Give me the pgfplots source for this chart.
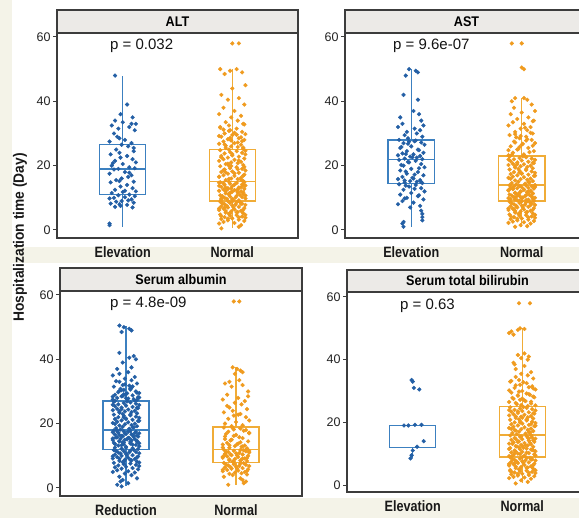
\documentclass[border=0pt]{standalone}
\usepackage{pgfplots}
\pgfplotsset{compat=1.18}
\usepackage{pgfplotstable}
\usepgfplotslibrary{statistics}
\usepackage{fontspec}
\setmainfont{Liberation Sans}
\newfontfamily\xlabfont[FakeStretch=0.84]{Liberation Sans}
\newfontfamily\stripfont[FakeStretch=0.9]{Liberation Sans}
\newfontfamily\ylabfont[FakeStretch=0.92]{Liberation Sans}
\definecolor{dotblue}{RGB}{35,95,165}
\definecolor{boxblue}{RGB}{60,128,192}
\definecolor{dotorange}{RGB}{240,155,30}
\definecolor{boxorange}{RGB}{240,172,55}
\definecolor{bgbeige}{RGB}{244,243,232}
\definecolor{stripgrey}{RGB}{236,234,231}
\definecolor{framegrey}{RGB}{60,60,60}
\definecolor{tickgrey}{RGB}{35,35,35}

% ---------------- data: d = horizontal jitter, y = days ----------------
\pgfplotstableread[row sep=\\]{
d y\\
-0.07 48\\ 0.04 39\\ -0.02 36\\ 0.09 35\\ -0.07 34\\ 0.12 33\\ 0 33.5\\ -0.10 32.5\\ 0.06 32\\ -0.04 31.5\\ 0.11 31\\ -0.08 30\\ 0.02 28\\ -0.12 27.5\\ 0.08 27\\ -0.01 26.5\\ 0.05 26\\ -0.06 25\\ 0.10 24.5\\ -0.03 24\\
-0.11 23.5\\ 0.04 23\\ -0.02 22.5\\ 0.09 22\\ -0.07 21.5\\ 0.12 21\\ 0 20.5\\ -0.10 20\\ 0.06 19.5\\ -0.04 19\\ 0.11 19.2\\ -0.08 18.8\\ 0.02 18\\ -0.12 17.5\\ 0.08 17\\ -0.01 16\\ 0.05 16.5\\ -0.06 15.5\\ 0.10 15\\ -0.03 15.2\\
-0.11 14.8\\ 0.04 14\\ -0.02 13.5\\ 0.09 13\\ -0.07 12.5\\ 0.12 12\\ 0 11.8\\ -0.10 11.5\\ 0.06 11\\ -0.04 10.8\\ 0.11 10.5\\ -0.08 10\\ 0.02 10.2\\ -0.12 9.8\\ 0.08 9.5\\ -0.01 9\\ 0.05 9.2\\ -0.06 8.8\\ 0.10 8.5\\ -0.03 8\\
-0.11 8.2\\ 0.04 7.8\\ -0.02 7.5\\ 0.09 7\\ -0.07 7.2\\ -0.12 2\\ -0.12 1.5\\ 0.02 12.2\\ 0.06 17.8\\ -0.03 28.5\\ 0.10 25.5\\ -0.05 29\\ 0.08 33\\ -0.09 20.8\\
}\altA
\pgfplotstableread[row sep=\\]{
d y\\
0 58\\ 0.06 58\\
-0.11 50\\ 0.04 50\\ -0.02 49.5\\ 0.09 49\\ -0.07 48.5\\ 0.12 45\\ 0 44\\ -0.10 42\\ 0.06 41\\ -0.04 40.5\\ 0.11 39\\ -0.08 38\\ 0.02 37\\ -0.12 36\\ 0.08 35.5\\ -0.01 35\\ 0.05 34\\ -0.06 33.5\\ 0.10 33\\ -0.03 32.5\\
-0.11 32\\ 0.04 31.5\\ -0.02 31\\ 0.09 30.5\\ -0.07 30\\ 0.12 29.8\\ 0 29.5\\ -0.10 29\\ 0.06 28.5\\ -0.04 28.2\\ 0.11 28\\ -0.08 27.5\\ 0.02 27\\ -0.12 26.8\\ 0.08 26.5\\ -0.01 26\\ 0.05 25.8\\ -0.06 25.5\\ 0.10 25.2\\ -0.03 25\\
0.11 32.8\\ -0.08 31.2\\ 0.02 30.2\\ -0.12 29.2\\ 0.08 28.8\\ -0.01 27.8\\ 0.05 27.2\\ -0.06 26.2\\ 0.10 25.6\\ -0.03 30.8\\ -0.11 31.8\\ 0.04 29.6\\ -0.02 28.6\\ 0.09 27.6\\ -0.07 26.6\\
-0.11 24.8\\ 0.04 24.5\\ -0.02 24.2\\ 0.09 24\\ -0.07 23.8\\ 0.12 23.5\\ 0 23.2\\ -0.10 23\\ 0.06 22.8\\ -0.04 22.5\\ 0.11 22.2\\ -0.08 22\\ 0.02 21.8\\ -0.12 21.5\\ 0.08 21.2\\ -0.01 21\\ 0.05 20.8\\ -0.06 20.5\\ 0.10 20.2\\ -0.03 20\\
-0.11 19.8\\ 0.04 19.5\\ -0.02 19.2\\ 0.09 19\\ -0.07 18.8\\ 0.12 18.5\\ 0 18.2\\ -0.10 18\\ 0.06 17.8\\ -0.04 17.5\\ 0.11 17.2\\ -0.08 17\\ 0.02 16.8\\ -0.12 16.5\\ 0.08 16.2\\ -0.01 16\\ 0.05 15.8\\ -0.06 15.5\\ 0.10 15.2\\ -0.03 15\\
0.12 24.6\\ 0 23.6\\ -0.10 22.6\\ 0.06 21.6\\ -0.04 20.6\\ 0.11 19.6\\ -0.08 18.6\\ 0.02 17.6\\ -0.12 16.6\\ 0.08 15.6\\ -0.01 19.9\\ 0.05 18.9\\ -0.06 17.9\\ 0.10 16.9\\ -0.03 15.9\\
-0.11 14.8\\ 0.04 14.6\\ -0.02 14.4\\ 0.09 14.2\\ -0.07 14\\ 0.12 13.8\\ 0 13.6\\ -0.10 13.4\\ 0.06 13.2\\ -0.04 13\\ 0.11 12.8\\ -0.08 12.6\\ 0.02 12.4\\ -0.12 12.2\\ 0.08 12\\ -0.01 11.8\\ 0.05 11.6\\ -0.06 11.4\\ 0.10 11.2\\ -0.03 11\\
-0.11 10.8\\ 0.04 10.6\\ -0.02 10.4\\ 0.09 10.2\\ -0.07 10\\ 0.12 9.8\\ 0 9.6\\ -0.10 9.4\\ 0.06 9.2\\ -0.04 9\\ 0.11 14.9\\ -0.08 14.5\\ 0.02 14.1\\ -0.12 13.7\\ 0.08 13.3\\ -0.01 12.9\\ 0.05 12.5\\ -0.06 12.1\\ 0.10 11.7\\ -0.03 11.3\\
0.07 10.9\\ -0.09 10.5\\ 0.03 10.1\\ -0.05 9.7\\ 0.01 9.3\\ -0.12 14.7\\ 0.10 13.9\\ -0.06 13.1\\ 0.04 12.3\\ -0.02 11.5\\ 0.12 10.7\\ -0.10 9.9\\ 0.06 9.1\\ -0.04 12.7\\ 0 11.9\\
-0.11 8.8\\ 0.04 8.6\\ -0.02 8.4\\ 0.09 8.2\\ -0.07 8\\ 0.12 7.8\\ 0 7.6\\ -0.10 7.4\\ 0.06 7.2\\ -0.04 7\\ 0.11 6.8\\ -0.08 6.6\\ 0.02 6.4\\ -0.12 6.2\\ 0.08 6\\ -0.01 5.8\\ 0.05 5.6\\ -0.06 5.4\\ 0.10 5.2\\ -0.03 5\\
-0.11 4.8\\ 0.04 4.6\\ -0.02 4.4\\ 0.09 4.2\\ -0.07 4\\ 0.12 3.8\\ 0 3.6\\ -0.10 3.4\\ 0.06 3.2\\ -0.04 3\\ 0.11 2.8\\ -0.08 2.5\\ 0.02 2.2\\ -0.12 2\\ 0.08 1.5\\ 0.06 1\\ -0.10 0.5\\
0.07 8.7\\ -0.09 8.3\\ 0.03 7.9\\ -0.05 7.5\\ 0.01 7.1\\ -0.12 6.7\\ 0.10 6.3\\ -0.06 5.9\\ 0.04 5.5\\ -0.02 5.1\\ 0.12 4.7\\ -0.10 4.3\\ 0.06 3.9\\ -0.04 3.5\\ 0 8.9\\ 0.08 8.1\\ -0.07 6.9\\ 0.09 5.7\\
}\altN
\pgfplotstableread[row sep=\\]{
d y\\
-0.02 50\\ 0.04 49.5\\ 0.06 49\\ -0.05 48\\ -0.07 42\\ 0.06 40.5\\ 0.02 37\\ 0.07 36\\ -0.10 35\\ 0.09 34\\ -0.08 33\\ 0.11 32.5\\ -0.12 32\\ 0.03 31.5\\ 0.08 31\\ -0.04 30.5\\ 0.05 30\\ -0.06 29.5\\ 0.10 29\\ -0.03 28.5\\
-0.11 28\\ 0.04 27.8\\ -0.02 27.5\\ 0.09 27.2\\ -0.07 27\\ 0.12 26.5\\ 0 26\\ -0.10 25.5\\ 0.06 25\\ -0.04 24.5\\ 0.11 24\\ -0.08 23.8\\ 0.02 23.5\\ -0.12 23.2\\ 0.08 23\\ -0.01 22.8\\ 0.05 22.5\\ -0.06 22.2\\ 0.10 22\\ -0.03 26.8\\ -0.09 25.8\\ 0.07 24.8\\ -0.05 23.6\\ 0.03 27.6\\ 0.01 22.6\\
-0.11 21.8\\ 0.04 21.5\\ -0.02 21\\ 0.09 20.5\\ -0.07 20\\ 0.12 19.5\\ 0 19\\ -0.10 18.5\\ 0.06 18\\ -0.04 17.5\\ 0.11 17\\ -0.08 16.5\\ 0.02 16\\ -0.12 15.8\\ 0.08 15.5\\ -0.01 15.2\\ 0.05 15\\ -0.06 14.8\\ 0.10 14.6\\ -0.03 21.2\\ -0.09 20.2\\ 0.07 19.2\\ -0.05 18.2\\ 0.03 17.2\\ 0.01 16.2\\ -0.06 15.4\\ 0.09 14.9\\
-0.11 14.2\\ 0.04 14\\ -0.02 13.5\\ 0.09 13\\ -0.07 12.5\\ 0.12 12\\ 0 11.5\\ -0.10 11\\ 0.06 10.5\\ -0.04 10\\ 0.11 9.5\\ -0.08 9\\ 0.02 8.5\\ -0.12 8\\ 0.08 7.5\\ -0.01 7\\ 0.09 6\\ 0.10 5\\ 0.10 4\\ 0.10 3\\ -0.07 2.5\\ -0.08 2\\ -0.07 1\\ -0.05 13.8\\ 0.03 12.8\\ 0.07 10.8\\ -0.06 9.8\\
}\astA
\pgfplotstableread[row sep=\\]{
d y\\
-0.09 58\\ 0 58\\ 0 50.5\\ 0.02 50\\
-0.06 41\\ 0.02 41\\ 0.05 40.5\\ -0.09 40\\ 0.09 39\\ -0.07 38\\ 0.12 37\\ 0 36.5\\ -0.10 36\\ 0.06 35\\ -0.04 34.5\\ 0.11 34\\ -0.08 33.5\\ 0.02 33\\ -0.12 32.5\\ 0.08 32\\ -0.01 31.5\\ 0.05 31\\ -0.06 30.5\\ 0.10 30\\
-0.11 29.5\\ 0.04 29\\ -0.02 28.5\\ 0.09 28\\ -0.07 27.5\\ 0.12 27\\ 0 26.5\\ -0.10 26\\ 0.06 25.5\\ -0.04 25\\ 0.11 24.5\\ -0.08 24\\ 0.02 23.5\\ -0.12 23.2\\ 0.08 30.2\\ -0.01 29.2\\ 0.05 28.2\\ -0.06 27.2\\ 0.10 26.2\\ -0.03 25.2\\
0.07 24.2\\ -0.09 23.4\\ 0.03 31.8\\ -0.05 28.8\\ 0.01 26.8\\ -0.12 24.8\\ 0.10 33.8\\ -0.06 29.8\\ 0.04 27.8\\ -0.02 25.8\\
-0.11 22.8\\ 0.04 22.6\\ -0.02 22.4\\ 0.09 22.2\\ -0.07 22\\ 0.12 21.8\\ 0 21.6\\ -0.10 21.4\\ 0.06 21.2\\ -0.04 21\\ 0.11 20.8\\ -0.08 20.6\\ 0.02 20.4\\ -0.12 20.2\\ 0.08 20\\ -0.01 19.8\\ 0.05 19.6\\ -0.06 19.4\\ 0.10 19.2\\ -0.03 19\\
-0.11 18.8\\ 0.04 18.6\\ -0.02 18.4\\ 0.09 18.2\\ -0.07 18\\ 0.12 17.8\\ 0 17.6\\ -0.10 17.4\\ 0.06 17.2\\ -0.04 17\\ 0.11 16.8\\ -0.08 16.6\\ 0.02 16.4\\ -0.12 16.2\\ 0.08 16\\ -0.01 15.8\\ 0.05 15.6\\ -0.06 15.4\\ 0.10 15.2\\ -0.03 15\\
0.07 14.8\\ -0.09 14.6\\ 0.03 14.4\\ -0.05 14.2\\ 0.01 22.9\\ -0.12 21.9\\ 0.10 20.9\\ -0.06 19.9\\ 0.04 18.9\\ -0.02 17.9\\ 0.12 16.9\\ -0.10 15.9\\ 0.06 14.9\\ -0.04 20.5\\ 0 17.5\\
-0.11 13.9\\ 0.04 13.8\\ -0.02 13.7\\ 0.09 13.6\\ -0.07 13.5\\ 0.12 13.4\\ 0 13.3\\ -0.10 13.2\\ 0.06 13.1\\ -0.04 13\\ 0.11 12.9\\ -0.08 12.8\\ 0.02 12.6\\ -0.12 12.4\\ 0.08 12.2\\ -0.01 12\\ 0.05 11.8\\ -0.06 11.6\\ 0.10 11.4\\ -0.03 11.2\\
-0.11 11\\ 0.04 10.8\\ -0.02 10.6\\ 0.09 10.4\\ -0.07 10.2\\ 0.12 10\\ 0 9.8\\ -0.10 9.6\\ 0.06 9.4\\ -0.04 9.2\\ 0.11 9\\ -0.08 12.7\\ 0.02 12.5\\ -0.12 12.3\\ 0.08 12.1\\ -0.01 11.9\\ 0.05 11.7\\ -0.06 11.5\\ 0.10 11.3\\ -0.03 11.1\\
0.07 10.9\\ -0.09 10.7\\ 0.03 10.5\\ -0.05 10.3\\ 0.01 10.1\\ -0.12 9.9\\ 0.10 9.7\\ -0.06 9.5\\ 0.04 9.3\\ -0.02 9.1\\ 0.12 13.95\\ -0.10 12.95\\ 0.06 11.95\\ -0.04 10.95\\ 0 9.95\\
-0.11 8.8\\ 0.04 8.6\\ -0.02 8.4\\ 0.09 8.2\\ -0.07 8\\ 0.12 7.8\\ 0 7.6\\ -0.10 7.4\\ 0.06 7.2\\ -0.04 7\\ 0.11 6.8\\ -0.08 6.6\\ 0.02 6.4\\ -0.12 6.2\\ 0.08 6\\ -0.01 5.8\\ 0.05 5.6\\ -0.06 5.4\\ 0.10 5.2\\ -0.03 5\\
-0.11 4.8\\ 0.04 4.6\\ -0.02 4.4\\ 0.09 4.2\\ -0.07 4\\ 0.12 3.8\\ 0 3.6\\ -0.10 3.4\\ 0.06 3.2\\ -0.04 3\\ 0.11 2.8\\ -0.08 2.6\\ 0.02 2.4\\ -0.12 2.2\\ 0.08 2\\ -0.01 1.5\\ 0.05 1.2\\ -0.06 1\\
0.07 8.7\\ -0.09 8.3\\ 0.03 7.9\\ -0.05 7.5\\ 0.01 7.1\\ -0.12 6.7\\ 0.10 6.3\\ -0.06 5.9\\ 0.04 5.5\\ -0.02 5.1\\ 0.12 4.7\\ -0.10 4.3\\ 0.06 3.9\\ -0.04 3.5\\ 0 8.9\\ 0.08 7.7\\ -0.07 6.5\\
}\astN
\pgfplotstableread[row sep=\\]{
d y\\
-0.06 50.5\\ -0.02 50\\ 0.03 49.5\\ 0.05 49\\ -0.04 48.5\\ -0.06 42\\ 0.07 41\\ 0.03 40.5\\ 0.09 40\\ -0.03 39\\ 0.05 37.5\\ -0.08 37\\ 0.02 36\\ -0.12 35\\ 0.08 34.5\\ -0.01 34\\ 0.05 33.5\\ -0.06 33\\ 0.10 32.5\\ -0.03 32\\
-0.11 31.5\\ 0.04 31\\ -0.02 30.5\\ 0.09 30\\ -0.07 29.8\\ 0.12 29.5\\ 0 29.2\\ -0.10 29\\ 0.06 28.8\\ -0.04 28.5\\ 0.11 28.2\\ -0.08 28\\ 0.02 27.8\\ -0.12 27.5\\ 0.08 27.2\\ -0.01 32.2\\ 0.05 31.2\\ -0.06 30.2\\ 0.10 29.6\\ -0.03 28.6\\
0.07 27.6\\ -0.09 33.2\\ 0.03 31.8\\ -0.05 30.8\\ 0.01 29.4\\ -0.12 28.4\\ 0.10 27.4\\ -0.06 35.5\\ 0.04 30.6\\ -0.02 29.1\\ 0.12 28.1\\ -0.10 27.1\\ 0.06 31.6\\ -0.04 30.4\\ 0 27.9\\
-0.11 26.8\\ 0.04 26.6\\ -0.02 26.4\\ 0.09 26.2\\ -0.07 26\\ 0.12 25.8\\ 0 25.6\\ -0.10 25.4\\ 0.06 25.2\\ -0.04 25\\ 0.11 24.8\\ -0.08 24.6\\ 0.02 24.4\\ -0.12 24.2\\ 0.08 24\\ -0.01 23.8\\ 0.05 23.6\\ -0.06 23.4\\ 0.10 23.2\\ -0.03 23\\
-0.11 22.8\\ 0.04 22.6\\ -0.02 22.4\\ 0.09 22.2\\ -0.07 22\\ 0.12 21.8\\ 0 21.6\\ -0.10 21.4\\ 0.06 21.2\\ -0.04 21\\ 0.11 20.8\\ -0.08 20.6\\ 0.02 20.4\\ -0.12 20.2\\ 0.08 20\\ -0.01 19.8\\ 0.05 19.6\\ -0.06 19.4\\ 0.10 19.2\\ -0.03 19\\
0.07 18.8\\ -0.09 18.6\\ 0.03 18.4\\ -0.05 18.2\\ 0.01 26.9\\ -0.12 25.9\\ 0.10 24.9\\ -0.06 23.9\\ 0.04 22.9\\ -0.02 21.9\\ 0.12 20.9\\ -0.10 19.9\\ 0.06 18.9\\ -0.04 24.5\\ 0 21.5\\
-0.11 17.9\\ 0.04 17.8\\ -0.02 17.6\\ 0.09 17.4\\ -0.07 17.2\\ 0.12 17\\ 0 16.8\\ -0.10 16.6\\ 0.06 16.4\\ -0.04 16.2\\ 0.11 16\\ -0.08 15.8\\ 0.02 15.6\\ -0.12 15.4\\ 0.08 15.2\\ -0.01 15\\ 0.05 14.8\\ -0.06 14.6\\ 0.10 14.4\\ -0.03 14.2\\
-0.11 14\\ 0.04 13.8\\ -0.02 13.6\\ 0.09 13.4\\ -0.07 13.2\\ 0.12 13\\ 0 12.8\\ -0.10 12.6\\ 0.06 12.4\\ -0.04 12.2\\ 0.11 12.1\\ -0.08 17.7\\ 0.02 17.5\\ -0.12 17.3\\ 0.08 17.1\\ -0.01 16.9\\ 0.05 16.7\\ -0.06 16.5\\ 0.10 16.3\\ -0.03 16.1\\
0.07 15.9\\ -0.09 15.7\\ 0.03 15.5\\ -0.05 15.3\\ 0.01 15.1\\ -0.12 14.9\\ 0.10 14.7\\ -0.06 14.5\\ 0.04 14.3\\ -0.02 14.1\\ 0.12 13.9\\ -0.10 13.7\\ 0.06 13.5\\ -0.04 13.3\\ 0 12.5\\
-0.11 11.8\\ 0.04 11.6\\ -0.02 11.4\\ 0.09 11.2\\ -0.07 11\\ 0.12 10.8\\ 0 10.6\\ -0.10 10.4\\ 0.06 10.2\\ -0.04 10\\ 0.11 9.8\\ -0.08 9.6\\ 0.02 9.4\\ -0.12 9.2\\ 0.08 9\\ -0.01 8.8\\ 0.05 8.6\\ -0.06 8.4\\ 0.10 8.2\\ -0.03 8\\
-0.11 7.8\\ 0.04 7.6\\ -0.02 7.4\\ 0.09 7.2\\ -0.07 7\\ 0.12 6.8\\ 0 6.6\\ -0.10 6.4\\ 0.06 6.2\\ -0.04 6\\ 0.11 5.8\\ -0.08 5.5\\ 0.02 5.2\\ -0.12 5\\ 0.08 4.8\\ -0.01 4.5\\ 0.05 4\\ -0.06 3.5\\ 0.10 3\\ -0.03 2.5\\ -0.05 2\\ 0.02 1.5\\ -0.08 1\\ -0.04 0.5\\
0.07 11.9\\ -0.09 11.5\\ 0.03 11.1\\ -0.05 10.7\\ 0.01 10.3\\ -0.12 9.9\\ 0.10 9.5\\ -0.06 9.1\\ 0.04 8.7\\ -0.02 8.3\\ 0.12 7.9\\
}\albA
\pgfplotstableread[row sep=\\]{
d y\\
-0.02 58\\ 0.03 58\\
-0.03 37.5\\ 0.01 37\\ 0.04 36.5\\ 0.06 36\\ -0.01 35.5\\ 0.03 33.5\\ -0.06 33\\ -0.10 32.5\\ 0.06 32\\ -0.04 31.5\\ 0.11 30\\ -0.08 29\\ 0.02 28\\ -0.12 27.5\\ 0.08 27\\ -0.01 26.5\\ 0.05 26\\ -0.06 25\\ 0.10 24.5\\ -0.03 24\\
-0.11 23.5\\ 0.04 23\\ -0.02 22.5\\ 0.09 22\\ -0.07 21.5\\ 0.12 21\\ 0 20.5\\ -0.10 20\\ 0.06 19.5\\ -0.04 19.2\\ 0.11 28.5\\ -0.08 25.5\\ 0.02 22.8\\
-0.11 18.8\\ 0.04 18.5\\ -0.02 18.2\\ 0.09 18\\ -0.07 17.5\\ 0.12 17\\ 0 16.5\\ -0.10 16\\ 0.06 15.5\\ -0.04 15\\ 0.11 14.5\\ -0.08 14\\ 0.02 13.8\\ -0.12 13.5\\ 0.08 13.2\\ -0.01 13\\ 0.05 12.8\\ -0.06 12.5\\ 0.10 12.2\\ -0.03 18.6\\
0.07 17.8\\ -0.09 16.8\\ 0.03 15.8\\ -0.05 14.8\\ 0.01 13.6\\ -0.12 12.6\\ 0.10 12.3\\ -0.06 13.3\\ 0.04 14.2\\ -0.02 16.2\\ 0.12 17.2\\ -0.10 15.2\\ 0.06 12.9\\
-0.11 11.9\\ 0.04 11.8\\ -0.02 11.6\\ 0.09 11.4\\ -0.07 11.2\\ 0.12 11\\ 0 10.8\\ -0.10 10.6\\ 0.06 10.4\\ -0.04 10.2\\ 0.11 10\\ -0.08 9.8\\ 0.02 9.6\\ -0.12 9.4\\ 0.08 9.2\\ -0.01 9\\ 0.05 8.8\\ -0.06 8.6\\ 0.10 8.4\\ -0.03 8.2\\
0.07 11.7\\ -0.09 11.3\\ 0.03 10.9\\ -0.05 10.5\\ 0.01 10.1\\ -0.12 9.7\\ 0.10 9.3\\ -0.06 8.9\\ 0.04 8.5\\ -0.02 8.1\\ 0.12 11.5\\ -0.10 10.3\\ 0.06 9.1\\
-0.11 7.8\\ 0.04 7.6\\ -0.02 7.4\\ 0.09 7.2\\ -0.07 7\\ 0.12 6.8\\ 0 6.6\\ -0.10 6.4\\ 0.06 6.2\\ -0.04 6\\ 0.11 5.8\\ -0.08 5.6\\ 0.02 5.4\\ -0.12 5.2\\ 0.08 5\\ -0.01 4.8\\ 0.05 4.6\\ -0.06 4.4\\ 0.10 4.2\\ -0.03 4\\
-0.11 3.5\\ 0.04 3\\ 0.06 2.5\\ 0.09 2\\ 0.07 1.5\\ -0.07 1\\ 0.07 7.7\\ -0.09 7.3\\ 0.03 6.9\\ -0.05 6.5\\ 0.01 6.1\\ -0.12 5.7\\ 0.10 5.3\\
}\albN
\pgfplotstableread[row sep=\\]{
d y\\
-0.01 33.5\\ 0 33\\ 0.01 31\\ 0.06 30.5\\ -0.08 19\\ -0.04 19\\ 0.02 19.2\\ 0.08 19.2\\ 0.10 14\\ 0.04 12.2\\ 0 11\\ -0.01 9.5\\ -0.02 8.5\\
}\bilA
\pgfplotstableread[row sep=\\]{
d y\\
-0.03 58\\ 0.07 58\\
-0.02 50\\ 0.02 49.8\\ -0.04 49.5\\ -0.10 49\\ -0.12 48.5\\ -0.08 48\\ 0.02 42\\ -0.04 41.5\\ 0.06 41\\ -0.01 40.5\\ 0.05 40\\ -0.08 39\\ 0.02 38\\ -0.06 37\\ 0.08 36\\ -0.01 35.5\\ 0.05 35\\ -0.06 34.5\\ 0.10 34\\ -0.03 33.5\\
-0.11 33\\ 0.04 32.5\\ -0.02 32\\ 0.09 31.5\\ -0.07 31\\ 0.12 30.5\\ 0 30\\ -0.10 29.5\\ 0.06 29\\ -0.04 28.5\\ 0.11 28\\ -0.08 27.5\\ 0.02 27\\ -0.12 26.5\\ 0.08 26\\ -0.01 25.5\\ 0.05 25.2\\ -0.06 31.8\\ 0.10 30.8\\ -0.03 29.8\\
0.07 28.8\\ -0.09 27.8\\ 0.03 26.8\\ -0.05 25.8\\ 0.01 32.8\\ -0.12 30.2\\ 0.10 28.2\\ -0.06 26.2\\ 0.04 29.2\\ -0.02 27.2\\ 0.12 25.4\\ -0.10 33.2\\ 0.06 31.2\\ -0.04 28.6\\ 0 27.6\\ 0.08 26.6\\ -0.07 38.5\\
-0.11 24.8\\ 0.04 24.6\\ -0.02 24.4\\ 0.09 24.2\\ -0.07 24\\ 0.12 23.8\\ 0 23.6\\ -0.10 23.4\\ 0.06 23.2\\ -0.04 23\\ 0.11 22.8\\ -0.08 22.6\\ 0.02 22.4\\ -0.12 22.2\\ 0.08 22\\ -0.01 21.8\\ 0.05 21.6\\ -0.06 21.4\\ 0.10 21.2\\ -0.03 21\\
-0.11 20.8\\ 0.04 20.6\\ -0.02 20.4\\ 0.09 20.2\\ -0.07 20\\ 0.12 19.8\\ 0 19.6\\ -0.10 19.4\\ 0.06 19.2\\ -0.04 19\\ 0.11 18.8\\ -0.08 18.6\\ 0.02 18.4\\ -0.12 18.2\\ 0.08 18\\ -0.01 17.8\\ 0.05 17.6\\ -0.06 17.4\\ 0.10 17.2\\ -0.03 17\\
0.07 16.8\\ -0.09 16.6\\ 0.03 16.4\\ -0.05 16.2\\ 0.01 24.9\\ -0.12 23.9\\ 0.10 22.9\\ -0.06 21.9\\ 0.04 20.9\\ -0.02 19.9\\ 0.12 18.9\\ -0.10 17.9\\ 0.06 16.9\\ -0.04 23.5\\ 0 21.5\\ 0.08 19.5\\ -0.07 17.5\\
-0.11 15.8\\ 0.04 15.6\\ -0.02 15.4\\ 0.09 15.2\\ -0.07 15\\ 0.12 14.8\\ 0 14.6\\ -0.10 14.4\\ 0.06 14.2\\ -0.04 14\\ 0.11 13.8\\ -0.08 13.6\\ 0.02 13.4\\ -0.12 13.2\\ 0.08 13\\ -0.01 12.8\\ 0.05 12.6\\ -0.06 12.4\\ 0.10 12.2\\ -0.03 12\\
-0.11 11.8\\ 0.04 11.6\\ -0.02 11.4\\ 0.09 11.2\\ -0.07 11\\ 0.12 10.8\\ 0 10.6\\ -0.10 10.4\\ 0.06 10.2\\ -0.04 10\\ 0.11 9.8\\ -0.08 9.6\\ 0.02 9.4\\ -0.12 9.2\\ 0.08 15.9\\ -0.01 15.5\\ 0.05 15.1\\ -0.06 14.7\\ 0.10 14.3\\ -0.03 13.9\\
0.07 13.5\\ -0.09 13.1\\ 0.03 12.7\\ -0.05 12.3\\ 0.01 11.9\\ -0.12 11.5\\ 0.10 11.1\\ -0.06 10.7\\ 0.04 10.3\\ -0.02 9.9\\ 0.12 9.5\\ -0.10 9.1\\ 0.06 14.9\\ -0.04 13.7\\ 0 12.5\\ 0.08 11.3\\ -0.07 10.1\\
-0.11 8.8\\ 0.04 8.6\\ -0.02 8.4\\ 0.09 8.2\\ -0.07 8\\ 0.12 7.8\\ 0 7.6\\ -0.10 7.4\\ 0.06 7.2\\ -0.04 7\\ 0.11 6.8\\ -0.08 6.6\\ 0.02 6.4\\ -0.12 6.2\\ 0.08 6\\ -0.01 5.8\\ 0.05 5.6\\ -0.06 5.4\\ 0.10 5.2\\ -0.03 5\\
-0.11 4.8\\ 0.04 4.6\\ -0.02 4.4\\ 0.09 4.2\\ -0.07 4\\ 0.12 3.8\\ 0 3.6\\ -0.10 3.4\\ 0.06 3.2\\ -0.04 3\\ 0.11 2.8\\ -0.08 2.6\\ 0.02 2.4\\ -0.12 2.2\\ 0.08 2\\ -0.01 1.5\\ 0.05 1\\ -0.06 0.5\\
0.07 8.7\\ -0.09 8.3\\ 0.03 7.9\\ -0.05 7.5\\ 0.01 7.1\\ -0.12 6.7\\ 0.10 6.3\\ -0.06 5.9\\ 0.04 5.5\\ -0.02 5.1\\ 0.12 4.7\\ -0.10 4.3\\ 0.06 3.9\\ -0.04 3.5\\ 0 8.9\\ 0.08 8.1\\ -0.07 6.9\\ 0.09 5.7\\ -0.11 4.5\\
}\bilN

\pgfplotsset{
  panel/.style={
    scale only axis, anchor=south west, clip=false,
    xmin=0.4, xmax=2.6, xtick={1,2},
    ytick={0,20,40,60},
    tick pos=left, tick align=outside, major tick length=4pt,
    xtick style={draw=none},
    ytick style={draw=framegrey, line width=1pt},
    axis line style={draw=framegrey, line width=1.5pt},
    /pgf/number format/assume math mode=true,
    yticklabel style={font=\fontsize{12.5}{14}\selectfont, text=tickgrey, xshift=1pt},
    xticklabel style={font=\xlabfont\bfseries\fontsize{15}{17}\selectfont, text=black!90, yshift=-1pt},
    boxplot/draw direction=y,
  },
  bxb/.style={draw=boxblue, line width=1.4pt, fill=none, mark=none, solid},
  bxo/.style={draw=boxorange, line width=1.4pt, fill=none, mark=none, solid},
  ptb/.style={only marks, mark=*, mark size=1.9pt, color=dotblue},
  pto/.style={only marks, mark=*, mark size=1.9pt, color=dotorange},
}
\newcommand{\strip}[2]{%
  \draw[framegrey, line width=1.5pt, fill=stripgrey] (rel axis cs:0,1) rectangle ([yshift=#2pt]rel axis cs:1,1);
  \node[font=\stripfont\bfseries\fontsize{14}{16}\selectfont, inner sep=0] at ([yshift=0.5*#2pt]rel axis cs:0.5,1) {#1};}
\newcommand{\pval}[2]{%
  \node[anchor=west, inner sep=0, font=\fontsize{15}{17}\selectfont, text=black!92] at (axis cs:#2,57.3) {#1};}

\begin{document}
\begin{tikzpicture}[x=1pt,y=1pt]
\fill[bgbeige] (0pt,0pt) rectangle (579pt,518pt);
\fill[white] (12pt,271pt) rectangle (579pt,518pt);
\fill[white] (12pt,20pt) rectangle (579pt,255pt);

% ALT
\begin{axis}[panel, at={(57pt,280pt)}, width=241pt, height=205pt, ymin=-2.49, ymax=61.24, xticklabels={Elevation,Normal}]
\addplot[bxb, boxplot prepared={draw position=1, lower whisker=1, lower quartile=11, median=19, upper quartile=26.5, upper whisker=48, box extend=0.42, whisker extend=0}] coordinates {};
\addplot[bxo, boxplot prepared={draw position=2, lower whisker=0.5, lower quartile=9, median=15, upper quartile=25, upper whisker=50, box extend=0.42, whisker extend=0}] coordinates {};
\addplot[ptb] table[x expr=\thisrow{d}+1, y=y] {\altA};
\addplot[pto] table[x expr=\thisrow{d}+2, y=y] {\altN};
\strip{ALT}{23}
\pval{p = 0.032}{0.884}
\end{axis}

% AST
\begin{axis}[panel, at={(345pt,280pt)}, width=243pt, height=205pt, ymin=-2.49, ymax=61.24, xticklabels={Elevation,Normal}]
\addplot[bxb, boxplot prepared={draw position=1, lower whisker=1, lower quartile=14.5, median=22, upper quartile=28, upper whisker=50, box extend=0.42, whisker extend=0}] coordinates {};
\addplot[bxo, boxplot prepared={draw position=2, lower whisker=1, lower quartile=9, median=14, upper quartile=23, upper whisker=41, box extend=0.42, whisker extend=0}] coordinates {};
\addplot[ptb] table[x expr=\thisrow{d}+1, y=y] {\astA};
\addplot[pto] table[x expr=\thisrow{d}+2, y=y] {\astN};
\strip{AST}{23}
\pval{p = 9.6e-07}{0.834}
\end{axis}

% Serum albumin
\begin{axis}[panel, at={(60pt,22pt)}, width=242pt, height=205pt, ymin=-2.49, ymax=61.24, xticklabels={Reduction,Normal}]
\addplot[bxb, boxplot prepared={draw position=1, lower whisker=0.5, lower quartile=12, median=18, upper quartile=27, upper whisker=50.5, box extend=0.42, whisker extend=0}] coordinates {};
\addplot[bxo, boxplot prepared={draw position=2, lower whisker=1, lower quartile=8, median=12, upper quartile=19, upper whisker=37.5, box extend=0.42, whisker extend=0}] coordinates {};
\addplot[ptb] table[x expr=\thisrow{d}+1, y=y] {\albA};
\addplot[pto] table[x expr=\thisrow{d}+2, y=y] {\albN};
\strip{Serum albumin}{23}
\pval{p = 4.8e-09}{0.855}
\end{axis}

% Serum total bilirubin
\begin{axis}[panel, at={(347pt,26pt)}, width=241pt, height=200pt, ymin=-2.23, ymax=61.6, xticklabels={Elevation,Normal}]
\addplot[bxb, boxplot prepared={draw position=1, lower whisker=8.5, lower quartile=12, median=12, upper quartile=19, upper whisker=19, box extend=0.42, whisker extend=0}] coordinates {};
\addplot[bxo, boxplot prepared={draw position=2, lower whisker=0.5, lower quartile=9, median=16, upper quartile=25, upper whisker=50, box extend=0.42, whisker extend=0}] coordinates {};
\addplot[ptb] table[x expr=\thisrow{d}+1, y=y] {\bilA};
\addplot[pto] table[x expr=\thisrow{d}+2, y=y] {\bilN};
\strip{Serum total bilirubin}{22}
\pval{p = 0.63}{0.884}
\end{axis}

\node[rotate=90, font=\ylabfont\bfseries\fontsize{15}{17}\selectfont, text=black!90] at (20pt,280.5pt) {Hospitalization time (Day)};
\pgfresetboundingbox
\useasboundingbox (0pt,0pt) rectangle (579pt,518pt);
\end{tikzpicture}
\end{document}
